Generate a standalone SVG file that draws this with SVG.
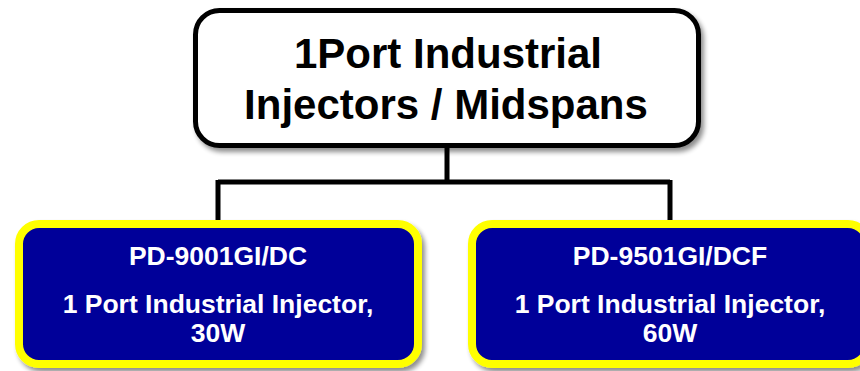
<svg xmlns="http://www.w3.org/2000/svg" width="860" height="371" viewBox="0 0 860 371">
<defs>
<filter id="sh" x="-10%" y="-10%" width="130%" height="140%">
<feGaussianBlur in="SourceAlpha" stdDeviation="2.5"/>
<feOffset dx="3" dy="4" result="b"/>
<feComponentTransfer><feFuncA type="linear" slope="0.45"/></feComponentTransfer>
<feMerge><feMergeNode/><feMergeNode in="SourceGraphic"/></feMerge>
</filter>
</defs>
<style>
.title{font-family:"Liberation Sans",Arial,sans-serif;font-weight:bold;font-size:42px;fill:#000;text-anchor:middle}
.lbl{font-family:"Liberation Sans",Arial,sans-serif;font-weight:bold;font-size:26.5px;fill:#fff;text-anchor:middle}
.child{fill:#000099;stroke:#ffff00;stroke-width:8}
.conn{fill:none;stroke:#000;stroke-width:5}
</style>
<g id="connectors">
<path class="conn" d="M447 147 V182 M218 182 H670 M218 180 V224 M670 180 V224"/>
</g>
<g id="root">
<rect x="195.5" y="10.5" width="503" height="135" rx="24" fill="#fff" stroke="#000" stroke-width="5" filter="url(#sh)"/>
<text class="title" x="448" y="68">1Port Industrial</text>
<text class="title" x="446" y="119">Injectors / Midspans</text>
</g>
<g id="node1">
<rect class="child" x="19" y="224" width="399" height="140" rx="20" filter="url(#sh)"/>
<text class="lbl" x="218" y="265">PD-9001GI/DC</text>
<text class="lbl" x="218" y="313">1 Port Industrial Injector,</text>
<text class="lbl" x="218" y="342">30W</text>
</g>
<g id="node2">
<rect class="child" x="472" y="224" width="396" height="140" rx="20" filter="url(#sh)"/>
<text class="lbl" x="670" y="265">PD-9501GI/DCF</text>
<text class="lbl" x="670" y="313">1 Port Industrial Injector,</text>
<text class="lbl" x="670" y="342">60W</text>
</g>
</svg>
